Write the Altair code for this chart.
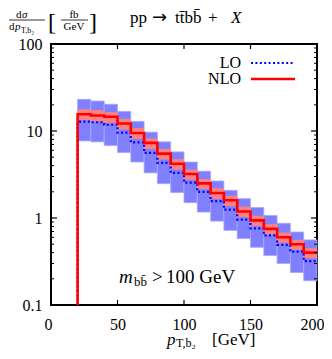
import altair as alt
import pandas as pd

# ---------------- data ----------------
bin_lo = [20, 30, 40, 50, 60, 70, 80, 90, 100, 110, 120, 130, 140, 150, 160, 170, 180, 190]
bin_hi = [30, 40, 50, 60, 70, 80, 90, 100, 110, 120, 130, 140, 150, 160, 170, 180, 190, 200]
nlo = [15.6, 15.1, 14.6, 12.2, 9.5, 7.3, 5.5, 4.2, 3.2, 2.5, 1.94, 1.6, 1.19, 0.94, 0.75, 0.60, 0.50, 0.40]
nlo_hi = [17.8, 17.4, 16.5, 13.8, 10.8, 8.2, 6.2, 4.75, 3.6, 2.8, 2.2, 1.8, 1.35, 1.06, 0.85, 0.68, 0.56, 0.45]
nlo_lo = [13.3, 12.9, 12.4, 10.4, 8.1, 6.2, 4.7, 3.6, 2.75, 2.15, 1.66, 1.37, 1.02, 0.81, 0.65, 0.52, 0.43, 0.345]
lo = [12.8, 12.6, 11.8, 9.6, 7.4, 5.6, 4.3, 3.3, 2.55, 2.0, 1.56, 1.25, 0.96, 0.76, 0.63, 0.49, 0.41, 0.32]
lo_hi = [23.1, 22.1, 20.3, 16.8, 12.9, 9.7, 7.5, 5.75, 4.4, 3.45, 2.66, 2.08, 1.67, 1.32, 1.07, 0.87, 0.69, 0.56]
lo_lo = [7.7, 7.5, 6.8, 5.65, 4.4, 3.3, 2.48, 1.96, 1.5, 1.17, 0.92, 0.72, 0.58, 0.46, 0.37, 0.30, 0.236, 0.19]

x_ticks = [0, 50, 100, 150, 200]
y_major = [0.1, 1, 10, 100]
y_minor = [m * d for d in [0.1, 1, 10] for m in range(2, 10)]

W, H = 266, 261
FONT = "Liberation Serif"

bands = pd.DataFrame({"x0": bin_lo, "x1": bin_hi, "nlo_hi": nlo_hi, "nlo_lo": nlo_lo,
                      "lo_hi": lo_hi, "lo_lo": lo_lo})


def step_df(vals):
    xs = [bin_lo[0]] + bin_lo + [bin_hi[-1]]
    ys = [0.1] + vals + [vals[-1]]
    return pd.DataFrame({"x": xs, "y": ys, "o": list(range(len(xs)))})


xs = alt.Scale(domain=[0, 200], nice=False, zero=False)
ys = alt.Scale(type="log", domain=[0.1, 100], nice=False)

xaxis = alt.Axis(values=x_ticks, ticks=False, domain=False, grid=False, title=None,
                 labelFont=FONT, labelFontSize=16, labelColor="black", labelPadding=11,
                 labelFlush=True, labelFlushOffset=7)
yaxis = alt.Axis(values=y_major, ticks=False, domain=False, grid=False, title=None,
                 labelFont=FONT, labelFontSize=16, labelColor="black", labelPadding=9,
                 format="~g")

base_bands = alt.Chart(bands)
lo_band = base_bands.mark_rect(color="#8080ff", stroke="#a8a8ff", strokeWidth=0.8).encode(
    x=alt.X("x0:Q", scale=xs, axis=xaxis), x2="x1:Q",
    y=alt.Y("lo_lo:Q", scale=ys, axis=yaxis), y2="lo_hi:Q")
nlo_band = base_bands.mark_rect(color="#ff8080").encode(
    x="x0:Q", x2="x1:Q", y="nlo_lo:Q", y2="nlo_hi:Q")

lo_line = alt.Chart(step_df(lo)).mark_line(
    interpolate="step-after", color="#0000ff", strokeWidth=2.2, strokeDash=[2, 2.4]).encode(
    x="x:Q", y="y:Q", order="o:Q")
nlo_line = alt.Chart(step_df(nlo)).mark_line(
    interpolate="step-after", color="#ff0000", strokeWidth=2.6).encode(
    x="x:Q", y="y:Q", order="o:Q")

# inward ticks
xt = pd.DataFrame({"v": x_ticks[1:-1]})
ymaj = pd.DataFrame({"v": y_major[1:-1]})
ymin = pd.DataFrame({"v": y_minor})
tick_layers = [
    alt.Chart(xt).mark_rule(color="black", strokeWidth=1.2).encode(
        x="v:Q", y=alt.value(H), y2=alt.value(H - 5)),
    alt.Chart(xt).mark_rule(color="black", strokeWidth=1.2).encode(
        x="v:Q", y=alt.value(0), y2=alt.value(5)),
    alt.Chart(ymaj).mark_rule(color="black", strokeWidth=1.2).encode(
        y="v:Q", x=alt.value(0), x2=alt.value(6)),
    alt.Chart(ymaj).mark_rule(color="black", strokeWidth=1.2).encode(
        y="v:Q", x=alt.value(W), x2=alt.value(W - 6)),
    alt.Chart(ymin).mark_rule(color="black", strokeWidth=1).encode(
        y="v:Q", x=alt.value(0), x2=alt.value(3)),
    alt.Chart(ymin).mark_rule(color="black", strokeWidth=1).encode(
        y="v:Q", x=alt.value(W), x2=alt.value(W - 3)),
]

one = pd.DataFrame({"a": [0]})
OX, OY = 51, 44


def txt(s, px, py, size=15, align="left", style="normal", font=FONT):
    return alt.Chart(one).mark_text(text=s, font=font, fontSize=size, align=align,
                                    baseline="alphabetic", fontStyle=style, color="black").encode(
        x=alt.value(px - OX), y=alt.value(py - OY))


def hrule(px0, px1, py, color="black", width=0.8, dash=None):
    kw = dict(color=color, strokeWidth=width)
    if dash:
        kw["strokeDash"] = dash
    return alt.Chart(one).mark_rule(**kw).encode(
        x=alt.value(px0 - OX), x2=alt.value(px1 - OX), y=alt.value(py - OY))


texts = [
    # y title
    txt("d", 16, 18, 11), txt("σ", 22, 18, 11, style="italic"),
    hrule(9, 45, 20),
    txt("d", 9, 30, 11), txt("p", 15, 30, 11, style="italic"), txt("T,b₂", 21, 33, 8),
    txt("[", 48, 30, 24), txt("fb", 74, 18, 11, align="center"),
    hrule(61, 88, 20),
    txt("GeV", 74, 30, 11, align="center"), txt("]", 89, 30, 24),
    # process
    txt("pp", 130, 23, 17), txt("→", 152, 23, 18, font="DejaVu Sans"),
    txt("tt̄bb̄", 175, 23, 17),
    txt("+", 208, 23, 17), txt("X", 231, 23, 17, style="italic"),
    # legend
    txt("LO", 241, 68, 16, align="right"), hrule(251, 295, 63, "#0000ff", 2.2, [2, 2.4]),
    txt("NLO", 241, 84, 16, align="right"), hrule(251, 295, 79, "#ff0000", 2.6),
    # cut annotation
    txt("m", 119, 283, 19, style="italic"), txt("bb̄", 134, 286, 13),
    txt(">", 152, 283, 19), txt("100 GeV", 166, 283, 19),
    # x title
    txt("p", 167, 345, 17, style="italic"), txt("T,b₂", 176, 347, 12),
    txt("[GeV]", 212, 345, 17),
]

chart = alt.layer(lo_band, nlo_band, lo_line, nlo_line, *tick_layers, *texts).properties(
    width=W, height=H,
    autosize=alt.AutoSizeParams(type="none"),
    padding={"left": 43, "top": 36, "right": 7, "bottom": 46},
).configure_view(stroke="black", strokeWidth=2)

chart.save("out.html", embed_options={"renderer": "svg", "actions": False})
